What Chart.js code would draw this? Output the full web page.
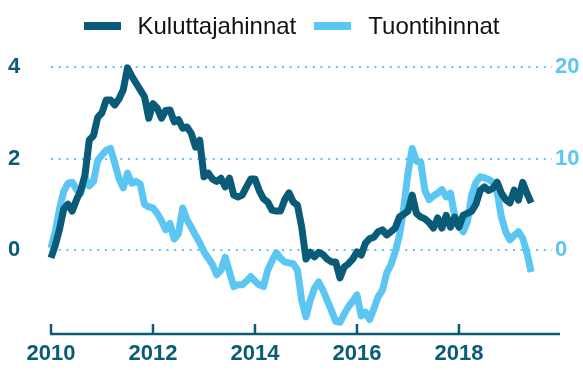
<!DOCTYPE html>
<html lang="fi">
<head>
<meta charset="utf-8">
<script src="https://cdn.jsdelivr.net/npm/chart.js@4.4.1/dist/chart.umd.min.js"></script>
<style>
  html, body { margin: 0; padding: 0; background: #fff; }
  .wrap { position: relative; width: 583px; height: 370px; }
  .legend {
    position: absolute; top: 12px; left: 0; width: 583px; height: 28px;
    display: flex; justify-content: center; align-items: center;
    font: 24px "Liberation Sans", Arial, sans-serif; color: #111;
  }
  .legend .item { display: flex; align-items: center; margin: 0 9px; }
  .legend i { display: inline-block; width: 37px; height: 8px; margin-right: 17px; }
</style>
</head>
<body>
<div class="wrap">
  <canvas id="chart" width="583" height="370"></canvas>
  <div class="legend">
    <span class="item"><i style="background:#0a5b78"></i>Kuluttajahinnat</span>
    <span class="item"><i style="background:#5bc6f1"></i>Tuontihinnat</span>
  </div>
</div>
<script>
const dark = '#0a5b78';
const light = '#5bc6f1';

// monthly, Jan 2010 onwards (% change y/y)
const startYear = 2010;
const kuluttajahinnat = [
  -0.17, 0.1, 0.45, 0.9, 1.0, 0.85, 1.1, 1.3, 1.64, 2.4,
  2.5, 2.9, 3.0, 3.28, 3.28, 3.17, 3.3, 3.5, 3.98, 3.8,
  3.65, 3.5, 3.35, 2.88, 3.2, 3.1, 2.88, 3.05, 3.06, 2.8,
  2.85, 2.66, 2.69, 2.55, 2.25, 2.4, 1.6, 1.68, 1.55, 1.5,
  1.57, 1.38, 1.57, 1.2, 1.16, 1.2, 1.38, 1.55, 1.55, 1.3,
  1.12, 1.05, 0.87, 0.85, 0.85, 1.1, 1.25, 1.05, 0.98, 0.5,
  -0.2, -0.05, -0.15, -0.05, -0.1, -0.2, -0.26, -0.26, -0.61, -0.37,
  -0.3, -0.2, -0.04, -0.11, 0.15, 0.25, 0.28, 0.4, 0.44, 0.33,
  0.4, 0.48, 0.72, 0.78, 0.85, 1.2, 0.8, 0.72, 0.68, 0.6,
  0.48, 0.7, 0.48, 0.76, 0.5, 0.72, 0.5, 0.76, 0.8, 0.85,
  1.0, 1.3, 1.38, 1.3, 1.35, 1.48, 1.24, 1.1, 1.03, 1.31,
  1.09, 1.48, 1.24, 1.03
];
const tuontihinnat = [
  0.2, 2.0, 4.5, 6.4, 7.3, 7.4, 6.6, 6.2, 7.9, 7.0,
  7.5, 9.8, 10.4, 10.9, 11.1, 9.5, 7.8, 6.8, 8.4, 7.3,
  7.5, 7.2, 5.0, 4.7, 4.6, 4.0, 3.2, 2.2, 2.9, 1.2,
  1.8, 4.6, 3.3, 2.5, 1.6, 0.8, -0.2, -0.9, -1.6, -2.7,
  -2.2, -0.8, -2.4, -4.0, -3.8, -3.8, -3.4, -2.9, -3.4, -3.8,
  -4.0, -2.2, -1.2, -0.3, -0.9, -1.3, -1.4, -1.5, -2.2, -5.5,
  -7.3, -5.5, -4.2, -3.5, -4.4, -5.5, -6.6, -7.8, -7.9, -7.0,
  -6.2, -5.6, -4.9, -7.2, -6.8, -7.6, -6.4, -5.1, -4.4, -2.5,
  -1.6, -0.2, 1.6, 4.6, 8.4, 11.1, 9.7, 9.6, 6.5, 5.5,
  5.9, 6.2, 6.6, 5.8, 6.2, 3.8, 2.6, 2.0, 3.1, 6.0,
  7.4, 8.0, 7.9, 7.7, 7.4, 6.3, 3.6, 2.0, 1.1, 1.6,
  2.0, 1.3, -0.3, -2.4
];

const yearTicks = [2010, 2012, 2014, 2016, 2018];
const leftTicks = [0, 2, 4];
const rightTicks = [0, 10, 20];

const toPoints = arr => arr.map((v, i) => ({ x: startYear + i / 12, y: v }));

const fontFamily = '"Liberation Sans", Arial, sans-serif';
const tickFont = { family: fontFamily, size: 22, weight: 'bold' };

// dotted gridlines, x axis line with inner tick marks
const axisDecor = {
  id: 'axisDecor',
  beforeDatasetsDraw(chart) {
    const { ctx, chartArea: a, scales } = chart;
    ctx.save();
    ctx.strokeStyle = light;
    ctx.lineWidth = 2;
    ctx.setLineDash([2, 5.7]);
    leftTicks.forEach(v => {
      const py = Math.round(scales.y.getPixelForValue(v));
      ctx.beginPath();
      ctx.moveTo(a.left, py);
      ctx.lineTo(a.right, py);
      ctx.stroke();
    });
    ctx.setLineDash([]);
    ctx.strokeStyle = dark;
    ctx.lineWidth = 2.5;
    ctx.beginPath();
    ctx.moveTo(a.left - 1, a.bottom);
    ctx.lineTo(a.right + 8, a.bottom);
    yearTicks.forEach(yr => {
      const px = scales.x.getPixelForValue(yr);
      ctx.moveTo(px, a.bottom);
      ctx.lineTo(px, a.bottom - 10);
    });
    ctx.stroke();
    ctx.restore();
  }
};

new Chart(document.getElementById('chart'), {
  type: 'line',
  data: {
    datasets: [
      {
        label: 'Kuluttajahinnat',
        data: toPoints(kuluttajahinnat),
        yAxisID: 'y',
        borderColor: dark,
        borderWidth: 7,
        pointRadius: 0,
        borderJoinStyle: 'round',
        tension: 0,
        clip: false
      },
      {
        label: 'Tuontihinnat',
        data: toPoints(tuontihinnat),
        yAxisID: 'y2',
        borderColor: light,
        borderWidth: 7,
        pointRadius: 0,
        borderJoinStyle: 'round',
        tension: 0,
        clip: false
      }
    ]
  },
  options: {
    responsive: false,
    devicePixelRatio: 1,
    animation: false,
    layout: { padding: { top: 60, left: 8, right: 0, bottom: 0 } },
    plugins: { legend: { display: false }, tooltip: { enabled: false } },
    scales: {
      x: {
        type: 'linear',
        min: startYear,
        max: startYear + 117.9 / 12,
        afterBuildTicks: axis => { axis.ticks = yearTicks.map(v => ({ value: v })); },
        afterFit: axis => { axis.height = 36; },
        grid: { display: false, drawTicks: false },
        border: { display: false },
        ticks: {
          color: dark,
          font: tickFont,
          padding: 7,
          maxRotation: 0,
          autoSkip: false,
          callback: v => String(v)
        }
      },
      y: {
        position: 'left',
        min: -1.836,
        max: 4.153,
        afterBuildTicks: axis => { axis.ticks = leftTicks.map(v => ({ value: v })); },
        afterFit: axis => { axis.width = 43; },
        grid: { display: false, drawTicks: false },
        border: { display: false },
        ticks: { color: dark, font: tickFont, padding: 2, crossAlign: 'far' }
      },
      y2: {
        position: 'right',
        min: -9.18,
        max: 20.765,
        afterBuildTicks: axis => { axis.ticks = rightTicks.map(v => ({ value: v })); },
        afterFit: axis => { axis.width = 31; },
        grid: { display: false, drawTicks: false },
        border: { display: false },
        ticks: { color: light, font: tickFont, padding: 3 }
      }
    }
  },
  plugins: [axisDecor]
});
</script>
</body>
</html>
